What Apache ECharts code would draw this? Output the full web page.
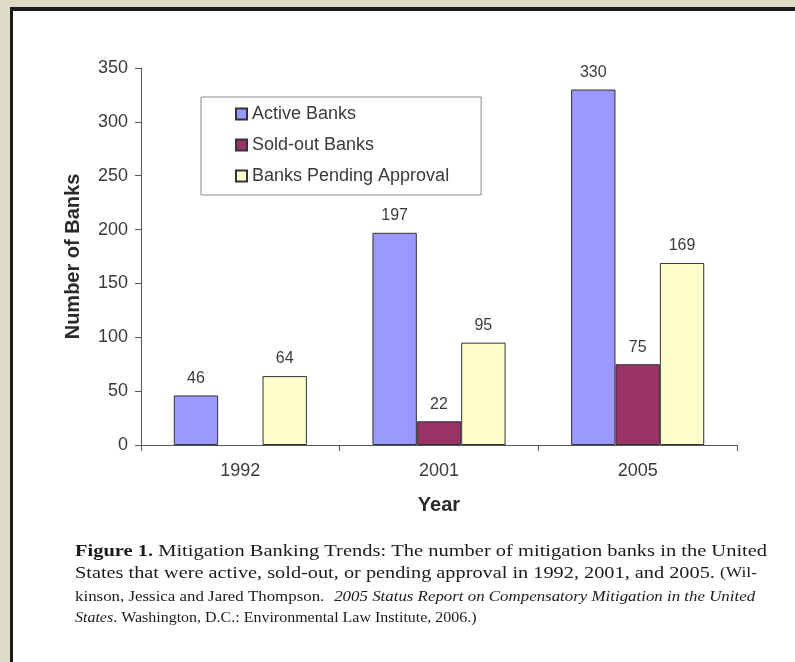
<!DOCTYPE html>
<html>
<head>
<meta charset="utf-8">
<title>Mitigation Banking Trends</title>
<script src="https://cdn.jsdelivr.net/npm/echarts@6/dist/echarts.min.js"></script>
<style>
  html, body { margin: 0; padding: 0; background: #dddcc7; }
  #frame {
    position: absolute; left: 10px; top: 7px; width: 820px; height: 700px;
    background: #ffffff; border-left: 3px solid #1c1c1c; border-top: 4px solid #1c1c1c;
    box-sizing: border-box;
  }
  #chart { position: absolute; left: 0; top: 0; width: 795px; height: 662px; }
</style>
</head>
<body>
<div id="frame"></div>
<div id="chart"></div>
<script>
// Number of mitigation banks per year, by status
const years = ['1992', '2001', '2005'];
const activeBanks = [46, 197, 330];
const soldOutBanks = [null, 22, 75];
const pendingBanks = [64, 95, 169];

const seriesNames = ['Active Banks', 'Sold-out Banks', 'Banks Pending Approval'];
const seriesColors = ['#9999ff', '#993366', '#ffffcc'];
const seriesValues = [activeBanks, soldOutBanks, pendingBanks];

const yMin = 0, yMax = 350, yStep = 50;

const sans = 'Liberation Sans, Arial, sans-serif';
const serif = 'Liberation Serif, Times New Roman, serif';
const textGrey = '#3a3a3a';

const chart = echarts.init(document.getElementById('chart'), null, { renderer: 'canvas' });

const series = seriesNames.map((name, i) => ({
  name: name,
  type: 'bar',
  data: seriesValues[i],
  barGap: '0%',
  barCategoryGap: '33%',
  itemStyle: { color: seriesColors[i], borderColor: '#333333', borderWidth: 1 },
  label: {
    show: true, position: 'top', distance: 9,
    color: textGrey, fontFamily: sans, fontSize: 16
  }
}));

// Figure caption below the plot (serif, slightly widened)
const captionLines = [
  '{b|Figure 1.} Mitigation Banking Trends: The number of mitigation banks in the United',
  'States that were active, sold-out, or pending approval in 1992, 2001, and 2005. {s|(Wil-}',
  '{s|kinson, Jessica and Jared Thompson.}  {i|2005 Status Report on Compensatory Mitigation in the United}',
  '{i|States}{s|. Washington, D.C.: Environmental Law Institute, 2006.)}'
];
const captionY = [551, 573, 597, 618];
const captionStretch = [1.17, 1.16, 1.125, 1.065];
const captionRich = {
  b: { fontFamily: serif, fontSize: 17.5, fontWeight: 'bold', color: '#1a1a1a' },
  s: { fontFamily: serif, fontSize: 15, color: '#1a1a1a' },
  i: { fontFamily: serif, fontSize: 15, fontStyle: 'italic', color: '#1a1a1a' }
};

chart.setOption({
  backgroundColor: 'transparent',
  animation: false,
  grid: { left: 141, right: 58, top: 68, bottom: 217 },
  legend: {
    orient: 'vertical',
    left: 201, top: 97,
    padding: [7, 32, 9, 34],
    itemGap: 11,
    itemWidth: 11, itemHeight: 11,
    icon: 'rect',
    borderColor: '#8a8a8a', borderWidth: 1,
    backgroundColor: '#ffffff',
    textStyle: { fontFamily: sans, fontSize: 18, color: textGrey, lineHeight: 20 },
    data: seriesNames
  },
  xAxis: {
    type: 'category',
    data: years,
    name: 'Year',
    nameLocation: 'middle',
    nameGap: 50,
    nameTextStyle: { fontFamily: sans, fontSize: 20, fontWeight: 'bold', color: '#2a2a2a' },
    axisLine: { lineStyle: { color: '#555555', width: 1 } },
    axisTick: { show: true, length: 6, lineStyle: { color: '#555555' } },
    axisLabel: { fontFamily: sans, fontSize: 18, color: textGrey, margin: 17 }
  },
  yAxis: {
    type: 'value',
    min: yMin, max: yMax, interval: yStep,
    name: 'Number of Banks',
    nameLocation: 'middle',
    nameRotate: 90,
    nameGap: 58,
    nameTextStyle: { fontFamily: sans, fontSize: 20, fontWeight: 'bold', color: '#2a2a2a' },
    axisLine: { show: true, lineStyle: { color: '#555555', width: 1 } },
    axisTick: { show: true, length: 6, lineStyle: { color: '#555555' } },
    axisLabel: { fontFamily: sans, fontSize: 18, color: textGrey, margin: 13 },
    splitLine: { show: false }
  },
  series: series,
  graphic: captionLines.map((line, i) => ({
    type: 'text',
    x: 75,
    y: captionY[i],
    scaleX: captionStretch[i],
    style: {
      text: line,
      fontFamily: serif,
      fontSize: 17.5,
      fill: '#1a1a1a',
      verticalAlign: 'middle',
      rich: captionRich
    }
  }))
});
</script>
</body>
</html>
